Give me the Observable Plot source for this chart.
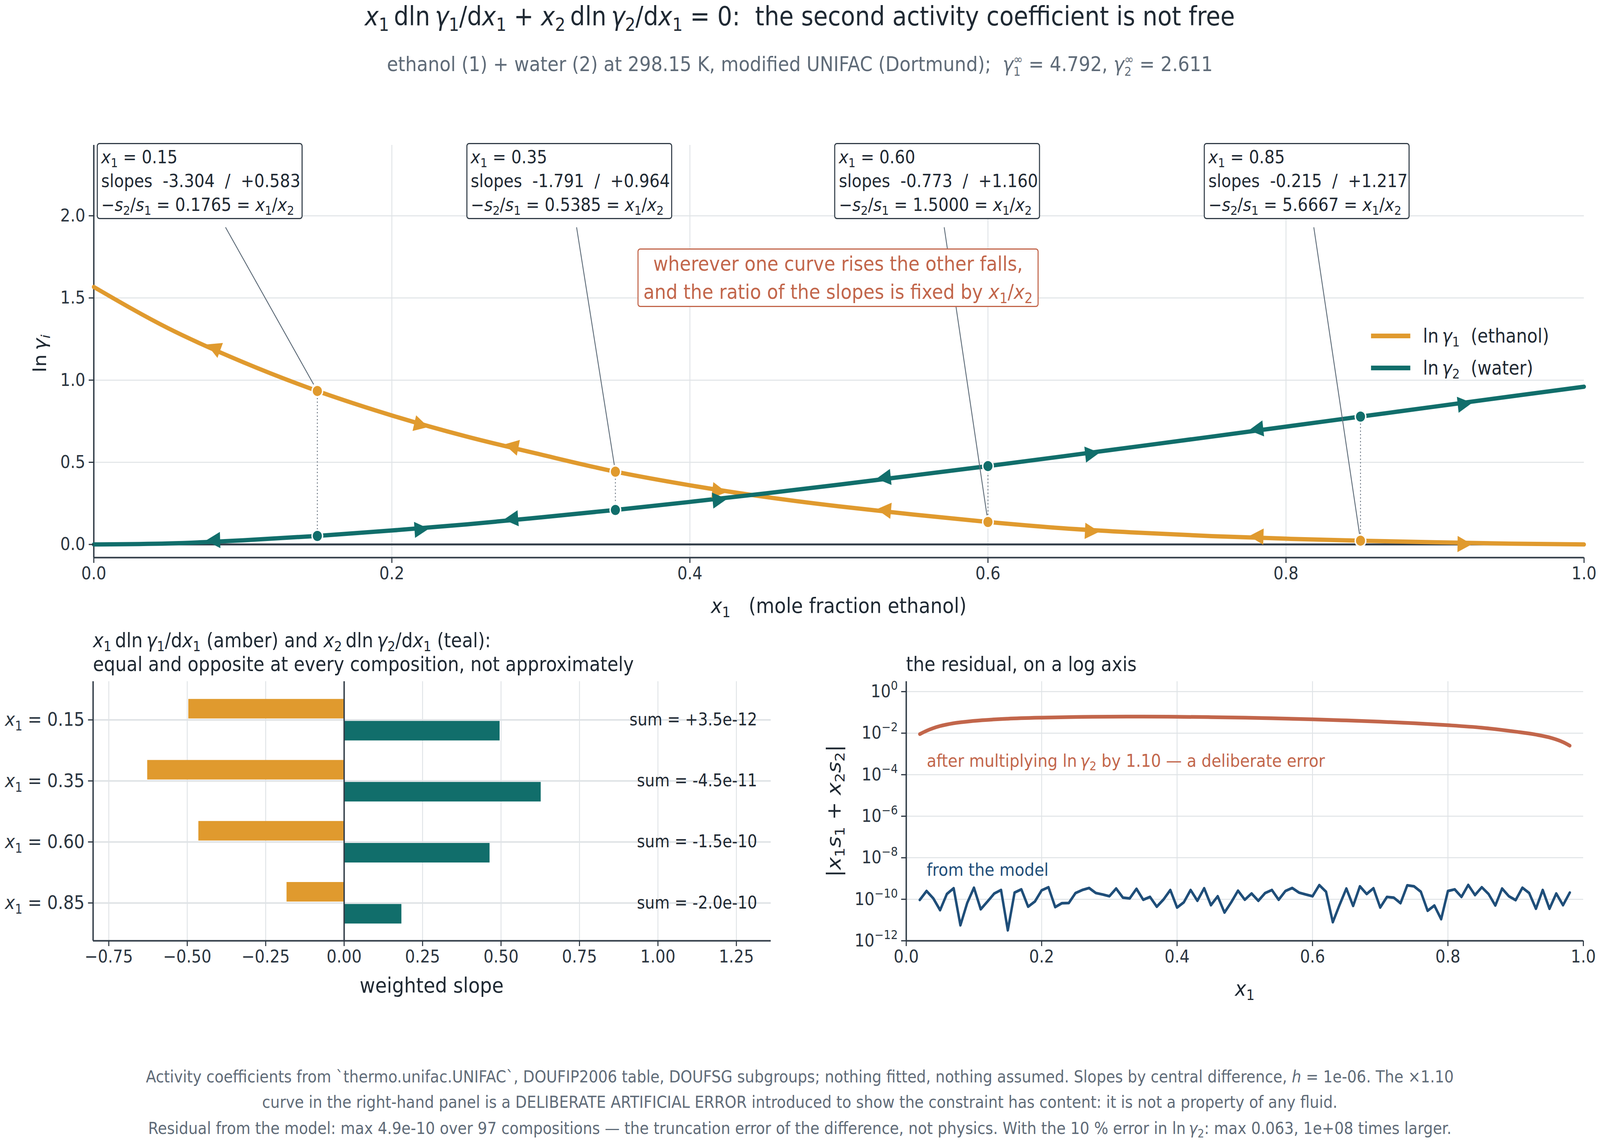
<!DOCTYPE html>
<html>
<head>
<meta charset="utf-8">
<script src="https://cdn.jsdelivr.net/npm/d3@7"></script>
<script src="https://cdn.jsdelivr.net/npm/@observablehq/plot@0.6"></script>
<style>
  html, body { margin: 0; padding: 0; background: #fff; overflow: hidden; }
  #frame { position: relative; overflow: hidden; width: 4563px; height: 2921px; }
  #page { position: absolute; left: 0; top: 0; width: 4563px; height: 2921px; font-family: "DejaVu Sans", sans-serif; color: #1f2933; transform-origin: 0 0; }
  .abs { position: absolute; white-space: pre; line-height: 1; }
  sub { font-size: 70%; vertical-align: -0.3em; line-height: 0; }
  .box { position: absolute; box-sizing: border-box; background: #fff; border: 3px solid #323d48; border-radius: 8px;
         font-size: 46px; line-height: 61px; padding: 3px 10px; white-space: pre; color: #1f2933; }
  .callout { position: absolute; box-sizing: border-box; background: #fff; border: 3px solid #c2664b; border-radius: 8px;
             font-size: 52px; line-height: 72px; text-align: center; white-space: pre; color: #c2664b; }
  .stack { display: inline-block; vertical-align: -0.38em; font-size: 62%; line-height: 0.95; text-align: left; }
</style>
</head>
<body>
<div id="frame"><div id="page"></div></div>
<script>
// composition grid and activity coefficients
const x1Grid   = [0, 0.05, 0.10, 0.15, 0.20, 0.25, 0.30, 0.35, 0.40, 0.45, 0.50, 0.55, 0.60, 0.65, 0.70, 0.75, 0.80, 0.85, 0.90, 0.95, 1.00];
const lnGamma1 = [1.567, 1.315, 1.110, 0.934, 0.785, 0.657, 0.547, 0.443, 0.360, 0.290, 0.232, 0.182, 0.137, 0.099, 0.072, 0.051, 0.035, 0.023, 0.013, 0.005, 0.000];
const lnGamma2 = [0.000, 0.006, 0.025, 0.052, 0.085, 0.122, 0.165, 0.210, 0.259, 0.310, 0.364, 0.420, 0.477, 0.536, 0.596, 0.656, 0.717, 0.778, 0.839, 0.900, 0.960];

// the four marked compositions
const markX      = [0.15, 0.35, 0.60, 0.85];
const slope1     = [-3.304, -1.791, -0.773, -0.215];
const slope2     = [0.583, 0.964, 1.160, 1.217];
const slopeRatio = ["0.1765", "0.5385", "1.5000", "5.6667"];

// direction markers along the curves
const arrowX   = [0.08, 0.22, 0.28, 0.42, 0.53, 0.67, 0.78, 0.92];
const arrowDir = [-1, 1, -1, 1, -1, 1, -1, 1];

// bottom left: weighted slopes
const weighted1 = [-0.496, -0.627, -0.464, -0.183];
const weighted2 = [0.496, 0.627, 0.464, 0.183];
const sumLabels = ["+3.5e-12", "-4.5e-11", "-1.5e-10", "-2.0e-10"];

// bottom right: residuals
const residX = [0.02,0.03,0.04,0.05,0.06,0.07,0.08,0.09,0.10,0.11,0.12,0.13,0.14,0.15,0.16,0.17,0.18,0.19,0.20,
  0.21,0.22,0.23,0.24,0.25,0.26,0.27,0.28,0.29,0.30,0.31,0.32,0.33,0.34,0.35,0.36,0.37,0.38,0.39,0.40,
  0.41,0.42,0.43,0.44,0.45,0.46,0.47,0.48,0.49,0.50,0.51,0.52,0.53,0.54,0.55,0.56,0.57,0.58,0.59,0.60,
  0.61,0.62,0.63,0.64,0.65,0.66,0.67,0.68,0.69,0.70,0.71,0.72,0.73,0.74,0.75,0.76,0.77,0.78,0.79,0.80,
  0.81,0.82,0.83,0.84,0.85,0.86,0.87,0.88,0.89,0.90,0.91,0.92,0.93,0.94,0.95,0.96,0.97,0.98];
const residModel = [9.3e-11,2.5e-10,1.1e-10,3.0e-11,1.8e-10,3.4e-10,5.6e-12,6.6e-11,3.6e-10,3.3e-11,7.8e-11,1.9e-10,2.8e-10,3.2e-12,2.1e-10,3.0e-10,4.4e-11,7.8e-11,2.7e-10,
  3.8e-10,4.2e-11,6.5e-11,6.6e-11,2.0e-10,2.8e-10,3.5e-10,2.0e-10,1.7e-10,1.4e-10,3.3e-10,1.2e-10,1.1e-10,3.2e-10,9.5e-11,1.3e-10,4.4e-11,9.8e-11,2.8e-10,4.0e-11,
  7.2e-11,2.8e-10,8.5e-11,3.4e-10,5.2e-11,1.4e-10,2.3e-11,7.2e-11,2.6e-10,9.5e-11,1.9e-10,8.5e-11,2.0e-10,2.8e-10,9.5e-11,2.5e-10,3.5e-10,2.1e-10,1.7e-10,1.4e-10,
  4.8e-10,2.3e-10,7.9e-12,5.4e-11,3.3e-10,4.8e-11,4.2e-10,1.8e-10,3.4e-10,4.0e-11,1.3e-10,1.2e-10,6.5e-11,4.7e-10,4.2e-10,2.3e-10,2.8e-11,5.0e-11,1.1e-11,2.5e-10,
  3.0e-10,1.3e-10,4.9e-10,1.6e-10,3.8e-10,1.8e-10,5.0e-11,3.3e-10,1.4e-10,9.1e-11,3.6e-10,2.0e-10,3.5e-11,2.8e-10,3.5e-11,1.9e-10,5.2e-11,2.1e-10];
const errX     = [0.02, 0.03, 0.04, 0.05, 0.07, 0.10, 0.15, 0.20, 0.25, 0.30, 0.35, 0.40, 0.45, 0.50, 0.55, 0.60, 0.65, 0.70, 0.75, 0.80, 0.85, 0.90, 0.93, 0.95, 0.97, 0.98];
const residErr = [0.0090, 0.0130, 0.0175, 0.022, 0.030, 0.039, 0.0496, 0.056, 0.060, 0.0625, 0.0627, 0.0615, 0.059, 0.0555, 0.051, 0.0464, 0.041, 0.0357, 0.030, 0.0242, 0.0183, 0.0118, 0.0085, 0.0062, 0.0037, 0.0025];

const AMBER = "#e09a2e", TEAL = "#116e6b", RUST = "#c2664b", NAVY = "#1f4e79";
const INK = "#1f2933", SLATE = "#323d48", GRID = "#dfe3e6", MUTED = "#5f6b78";

const page = document.getElementById("page");
const baseStyle = {fontFamily: "DejaVu Sans", fontSize: "45px", color: "#2b3540", background: "transparent", overflow: "visible"};
const gridOpt = {stroke: GRID, strokeOpacity: 1, strokeWidth: 2.5};
const axisOpt = {tickSize: 14, tickPadding: 10, strokeWidth: 3, label: null, fontSize: 45};
const spine = {stroke: SLATE, strokeWidth: 4};

function place(node, left, top, w, h) {
  const d = document.createElement("div");
  d.style.cssText = `position:absolute;left:${left}px;top:${top}px;width:${w}px;height:${h}px`;
  d.append(node);
  page.append(d);
}

function label(html, x, y, o = {}) {
  const d = document.createElement("div");
  d.className = "abs";
  d.innerHTML = html;
  const tx = o.anchor === "start" ? "0" : "-50%";
  d.style.left = x + "px";
  d.style.top = y + "px";
  d.style.fontSize = (o.size || 46) + "px";
  d.style.color = o.color || INK;
  d.style.transform = `translate(${tx},-50%)` + (o.rotate ? " rotate(-90deg)" : "");
  page.append(d);
  return d;
}

// svg tick labels with italic / sub / sup parts
function setRich(el, parts, fs) {
  el.textContent = "";
  el.setAttribute("font-size", fs);
  let shift = 0;
  for (const p of parts) {
    const ts = document.createElementNS("http://www.w3.org/2000/svg", "tspan");
    ts.textContent = p.t;
    if (p.i) ts.setAttribute("font-style", "italic");
    const want = p.sub ? 0.25 * fs : p.sup ? -0.42 * fs : 0;
    if (want !== shift) { ts.setAttribute("dy", want - shift); shift = want; }
    if (p.sub || p.sup) ts.setAttribute("font-size", 0.7 * fs);
    el.append(ts);
  }
}

function interp(xs, ys, x) {
  const i = Math.min(xs.length - 2, Math.max(0, d3.bisectRight(xs, x) - 1));
  const t = (x - xs[i]) / (xs[i + 1] - xs[i]);
  return {y: ys[i] + t * (ys[i + 1] - ys[i]), s: (ys[i + 1] - ys[i]) / (xs[i + 1] - xs[i])};
}

// ---------- top panel ----------
const topW = 4563, topH = 1300, topM = {t: 71, r: 46, b: 173, l: 267}, topTop = 300;
const topY = [-0.08, 2.43];
const pxX = topW - topM.l - topM.r;
const pxY = (topH - topM.t - topM.b) / (topY[1] - topY[0]);

const curve1 = x1Grid.map((x, i) => ({x, y: lnGamma1[i]}));
const curve2 = x1Grid.map((x, i) => ({x, y: lnGamma2[i]}));
const pts = markX.map((x, i) => ({x, g1: interp(x1Grid, lnGamma1, x).y, g2: interp(x1Grid, lnGamma2, x).y, i}));

const arrowsFor = ys => arrowX.map((x, k) => {
  const {y, s} = interp(x1Grid, ys, x);
  const dir = arrowDir[k];
  return {x, y, angle: Math.atan2(-dir * s * pxY, dir * pxX) * 180 / Math.PI};
});

// annotation boxes sit along the top, leaders run from box centre toward the amber dot
const boxLeft = [0.002, 0.250, 0.497, 0.745];
const boxWd = 587 / pxX, boxCy = 2.21, leaderTop = 1.93;
const leaders = pts.map((p, i) => {
  const cx = boxLeft[i] + boxWd / 2;
  const at = yy => cx + (p.x - cx) * (boxCy - yy) / (boxCy - p.g1);
  const yEnd = p.g1 + 0.04;
  return {x1: at(leaderTop), y1: leaderTop, x2: at(yEnd), y2: yEnd};
});

const topChart = Plot.plot({
  width: topW, height: topH,
  marginTop: topM.t, marginRight: topM.r, marginBottom: topM.b, marginLeft: topM.l,
  x: {domain: [0, 1]},
  y: {domain: topY},
  style: baseStyle,
  marks: [
    Plot.gridX([0.2, 0.4, 0.6, 0.8], gridOpt),
    Plot.gridY([0.5, 1, 1.5, 2], gridOpt),
    Plot.ruleY([0], {stroke: SLATE, strokeWidth: 5}),
    Plot.ruleX([0], spine),
    Plot.ruleY([topY[0]], spine),
    Plot.link(pts, {x1: "x", x2: "x", y1: "g1", y2: "g2", stroke: MUTED, strokeWidth: 2.5, strokeDasharray: "3,6"}),
    Plot.line(curve1, {x: "x", y: "y", stroke: AMBER, strokeWidth: 11, curve: "monotone-x"}),
    Plot.line(curve2, {x: "x", y: "y", stroke: TEAL, strokeWidth: 11, curve: "monotone-x"}),
    Plot.text(arrowsFor(lnGamma1), {x: "x", y: "y", text: () => "▶", rotate: "angle", fill: AMBER, fontSize: 54}),
    Plot.text(arrowsFor(lnGamma2), {x: "x", y: "y", text: () => "▶", rotate: "angle", fill: TEAL, fontSize: 54}),
    Plot.link(leaders, {x1: "x1", y1: "y1", x2: "x2", y2: "y2", stroke: "#5d6b78", strokeWidth: 2.5}),
    Plot.dot(pts, {x: "x", y: "g1", r: 15, fill: AMBER, stroke: "white", strokeWidth: 4}),
    Plot.dot(pts, {x: "x", y: "g2", r: 15, fill: TEAL, stroke: "white", strokeWidth: 4}),
    Plot.axisX([0, 0.2, 0.4, 0.6, 0.8, 1], {...axisOpt, tickFormat: d3.format(".1f")}),
    Plot.axisY([0, 0.5, 1, 1.5, 2], {...axisOpt, tickFormat: d3.format(".1f")})
  ]
});
place(topChart, 0, topTop, topW, topH);

const sx = topChart.scale("x"), sy = topChart.scale("y");
const pageX = v => sx.apply(v);
const pageY = v => topTop + sy.apply(v);

// annotation boxes
const sgn = v => (v < 0 ? "-" : "+") + Math.abs(v).toFixed(3);
markX.forEach((x, i) => {
  const b = document.createElement("div");
  b.className = "box";
  b.style.left = pageX(boxLeft[i]) + "px";
  b.style.top = (pageY(topY[1]) - 5) + "px";
  b.style.width = "587px";
  b.innerHTML =
    `<i>x</i><sub>1</sub> = ${x.toFixed(2)}\n` +
    `slopes  ${sgn(slope1[i])}  /  ${sgn(slope2[i])}\n` +
    `−<i>s</i><sub>2</sub>/<i>s</i><sub>1</sub> = ${slopeRatio[i]} = <i>x</i><sub>1</sub>/<i>x</i><sub>2</sub>`;
  page.append(b);
});

// callout
const callout = document.createElement("div");
callout.className = "callout";
callout.style.left = pageX(0.365) + "px";
callout.style.top = pageY(1.80) + "px";
callout.style.width = (pageX(0.634) - pageX(0.365)) + "px";
callout.innerHTML = "wherever one curve rises the other falls,\nand the ratio of the slopes is fixed by <i>x</i><sub>1</sub>/<i>x</i><sub>2</sub>";
page.append(callout);

// legend
[[AMBER, "ln&thinsp;<i>γ</i><sub>1</sub>  (ethanol)", 860], [TEAL, "ln&thinsp;<i>γ</i><sub>2</sub>  (water)", 942]].forEach(([c, t, y]) => {
  const sw = document.createElement("div");
  sw.style.cssText = `position:absolute;left:3910px;top:${y - 6}px;width:112px;height:12px;background:${c}`;
  page.append(sw);
  label(t, 4058, y, {anchor: "start", size: 49});
});

// ---------- bottom left: weighted slopes ----------
const blW = 2250, blH = 1000, blM = {t: 144, r: 52, b: 192, l: 265};
const blX = [-0.80, 1.36], blY = [3.62, -0.63];
const rows = markX.map((x, i) => ({i, w1: weighted1[i], w2: weighted2[i], sum: sumLabels[i]}));

const barChart = Plot.plot({
  width: blW, height: blH,
  marginTop: blM.t, marginRight: blM.r, marginBottom: blM.b, marginLeft: blM.l,
  x: {domain: blX},
  y: {domain: blY},
  style: baseStyle,
  marks: [
    Plot.gridX([-0.75, -0.5, -0.25, 0.25, 0.5, 0.75, 1, 1.25], gridOpt),
    Plot.gridY([0, 1, 2, 3], {...gridOpt, strokeWidth: 4}),
    Plot.rect(rows, {x1: () => 0, x2: "w1", y1: d => d.i - 0.34, y2: d => d.i - 0.02, fill: AMBER}),
    Plot.rect(rows, {x1: () => 0, x2: "w2", y1: d => d.i + 0.02, y2: d => d.i + 0.34, fill: TEAL}),
    Plot.ruleX([0], spine),
    Plot.ruleX([blX[0]], spine),
    Plot.ruleY([blY[0]], spine),
    Plot.text(rows, {y: "i", text: d => "sum = " + d.sum, frameAnchor: "right", textAnchor: "end", dx: -39, fill: INK, fontSize: 44}),
    Plot.axisX([-0.75, -0.5, -0.25, 0, 0.25, 0.5, 0.75, 1, 1.25], {...axisOpt, tickFormat: d3.format(".2f")}),
    Plot.axisY([0, 1, 2, 3], {...axisOpt, tickFormat: i => "x1 = " + markX[i].toFixed(2)})
  ]
});
barChart.querySelectorAll("text").forEach(t => {
  const s = t.textContent;
  if (s.startsWith("x1 = ")) setRich(t, [{t: "x", i: 1}, {t: "1", sub: 1}, {t: s.slice(2)}], 48);
});
place(barChart, 0, 1600, blW, blH);

// ---------- bottom right: residual on a log axis ----------
const brW = 2263, brH = 1000, brM = {t: 144, r: 48, b: 192, l: 284};
const brY = [1e-12, 3.1];
const decades = [1, 1e-2, 1e-4, 1e-6, 1e-8, 1e-10, 1e-12];

const resChart = Plot.plot({
  width: brW, height: brH,
  marginTop: brM.t, marginRight: brM.r, marginBottom: brM.b, marginLeft: brM.l,
  x: {domain: [0, 1]},
  y: {type: "log", domain: brY},
  style: baseStyle,
  marks: [
    Plot.gridX([0.2, 0.4, 0.6, 0.8], gridOpt),
    Plot.gridY(decades.slice(0, 6), gridOpt),
    Plot.line(errX.map((x, i) => ({x, y: residErr[i]})), {x: "x", y: "y", stroke: RUST, strokeWidth: 9.5, curve: "monotone-x"}),
    Plot.line(residX.map((x, i) => ({x, y: residModel[i]})), {x: "x", y: "y", stroke: NAVY, strokeWidth: 7}),
    Plot.ruleX([0], spine),
    Plot.ruleY([brY[0]], spine),
    Plot.axisX([0, 0.2, 0.4, 0.6, 0.8, 1], {...axisOpt, tickFormat: d3.format(".1f")}),
    Plot.axisY(decades, {...axisOpt, tickFormat: d => "10^" + Math.round(Math.log10(d))})
  ]
});
resChart.querySelectorAll("text").forEach(t => {
  const s = t.textContent;
  if (s.startsWith("10^")) setRich(t, [{t: "10"}, {t: s.slice(3).replace("-", "−"), sup: 1}], 45);
});
place(resChart, 2300, 1600, brW, brH);

// ---------- titles, labels, notes ----------
const x1 = "<i>x</i><sub>1</sub>", x2 = "<i>x</i><sub>2</sub>";
const g1 = "<i>γ</i><sub>1</sub>", g2 = "<i>γ</i><sub>2</sub>";
label(`${x1}&thinsp;dln&thinsp;${g1}/d${x1} + ${x2}&thinsp;dln&thinsp;${g2}/d${x1} = 0:  the second activity coefficient is not free`, 2281, 42, {size: 67});
label(`ethanol (1) + water (2) at 298.15 K, modified UNIFAC (Dortmund);  <i>γ</i><span class="stack">∞<br>1</span> = 4.792, <i>γ</i><span class="stack">∞<br>2</span> = 2.611`, 2281, 168, {size: 52, color: MUTED});

label(`ln&thinsp;<i>γ</i><sub><i>i</i></sub>`, 114, 905, {size: 51, rotate: true});
label(`${x1}   (mole fraction ethanol)`, 2392, 1551, {size: 54});

label(`${x1}&thinsp;dln&thinsp;${g1}/d${x1} (amber) and ${x2}&thinsp;dln&thinsp;${g2}/d${x1} (teal):`, 265, 1639, {anchor: "start", size: 51});
label(`equal and opposite at every composition, not approximately`, 265, 1700, {anchor: "start", size: 51});
label(`weighted slope`, 1231, 2523, {size: 54});

label(`the residual, on a log axis`, 2584, 1700, {anchor: "start", size: 51});
label(`|${x1}<i>s</i><sub>1</sub> + ${x2}<i>s</i><sub>2</sub>|`, 2379, 2076, {size: 55, rotate: true});
label(x1, 3550, 2531, {size: 54});
label(`after multiplying ln&thinsp;${g2} by 1.10 — a deliberate error`, 2643, 1947, {anchor: "start", size: 45, color: RUST});
label(`from the model`, 2643, 2226, {anchor: "start", size: 45, color: NAVY});

label("Activity coefficients from `thermo.unifac.UNIFAC`, DOUFIP2006 table, DOUFSG subgroups; nothing fitted, nothing assumed. Slopes by central difference, <i>h</i> = 1e-06. The ×1.10", 2281, 2757, {size: 42.5, color: MUTED});
label("curve in the right-hand panel is a DELIBERATE ARTIFICIAL ERROR introduced to show the constraint has content: it is not a property of any fluid.", 2281, 2822, {size: 42.5, color: MUTED});
label(`Residual from the model: max 4.9e-10 over 97 compositions — the truncation error of the difference, not physics. With the 10 % error in ln&thinsp;${g2}: max 0.063, 1e+08 times larger.`, 2281, 2889, {size: 42.5, color: MUTED});

// the window may be narrower than 4563 px: map the 4563×2921 layout onto it so every
// element keeps the same relative place as in the reference
const kx = Math.min(1, window.innerWidth / 4563), ky = Math.min(1, window.innerHeight / 2921);
if (kx < 0.998 || ky < 0.998) {
  page.style.transform = `scale(${kx}, ${ky})`;
  const frame = document.getElementById("frame");
  frame.style.width = Math.floor(4563 * kx) + "px";
  frame.style.height = Math.floor(2921 * ky) + "px";
}
</script>
</body>
</html>
